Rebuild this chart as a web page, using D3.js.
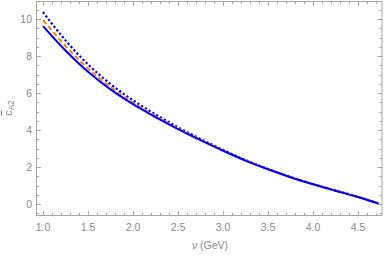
<!DOCTYPE html>
<html>
<head>
<meta charset="utf-8">
<script src="https://cdn.jsdelivr.net/npm/d3@7"></script>
<style>
  body { margin: 0; background: #fff; }
  svg { display: block; font-family: "Liberation Sans", Arial, sans-serif; }
</style>
</head>
<body>
<svg id="chart" width="387" height="257"></svg>
<script>
// energy nu (GeV)
const nu = [1.0, 1.25, 1.5, 1.75, 2.0, 2.25, 2.5, 2.75, 3.0, 3.25, 3.5, 3.75, 4.0, 4.25, 4.5, 4.73];
// three curves
const solidVals  = [9.62, 8.30, 7.15, 6.20, 5.40, 4.70, 4.05, 3.45, 2.88, 2.35, 1.88, 1.45, 1.07, 0.72, 0.38, 0.02];
const dashedVals = [9.95, 8.55, 7.33, 6.33, 5.49, 4.76, 4.09, 3.48, 2.90, 2.36, 1.89, 1.46, 1.08, 0.73, 0.39, 0.03];
const dottedVals = [10.38, 8.85, 7.55, 6.49, 5.61, 4.85, 4.15, 3.52, 2.93, 2.38, 1.90, 1.46, 1.08, 0.73, 0.39, 0.03];
const xTicks = [1.0, 1.5, 2.0, 2.5, 3.0, 3.5, 4.0, 4.5];
const yTicks = [0, 2, 4, 6, 8, 10];

const svg = d3.select('#chart');
const mLeft = 36.5, mRight = 382, mTop = 1.5, mBottom = 215.5;

const x = d3.scaleLinear().domain([0.928, 4.767]).range([mLeft, mRight]);
const y = d3.scaleLinear().domain([-0.62, 10.95]).range([mBottom, mTop]);

const frameCol = '#a6a6a6';
const labelCol = '#8a8a8a';

// frame
svg.append('rect')
  .attr('x', mLeft).attr('y', mTop)
  .attr('width', mRight - mLeft).attr('height', mBottom - mTop)
  .attr('fill', 'none').attr('stroke', frameCol).attr('stroke-width', 1);

// ticks (inward, on all four sides)
const xMinor = d3.range(9, 48).map(d => d / 10).filter(v => v >= x.domain()[0] && v <= x.domain()[1]);
const yMinor = d3.range(-1, 22).map(d => d / 2).filter(v => v >= y.domain()[0] && v <= y.domain()[1]);
const ticks = svg.append('g').attr('stroke', frameCol).attr('stroke-width', 1);
xMinor.forEach(v => {
  const major = xTicks.some(t => Math.abs(t - v) < 1e-6);
  const len = major ? 4.5 : 2.5;
  const px = Math.round(x(v)) + 0.5;
  ticks.append('line').attr('x1', px).attr('x2', px).attr('y1', mBottom).attr('y2', mBottom - len);
  ticks.append('line').attr('x1', px).attr('x2', px).attr('y1', mTop).attr('y2', mTop + len);
});
yMinor.forEach(v => {
  const major = yTicks.some(t => Math.abs(t - v) < 1e-6);
  const len = major ? 4.5 : 2.5;
  const py = Math.round(y(v)) + 0.5;
  ticks.append('line').attr('y1', py).attr('y2', py).attr('x1', mLeft).attr('x2', mLeft + len);
  ticks.append('line').attr('y1', py).attr('y2', py).attr('x1', mRight).attr('x2', mRight - len);
});

// tick labels
svg.append('g').selectAll('text').data(xTicks).join('text')
  .attr('x', d => x(d)).attr('y', 231)
  .attr('text-anchor', 'middle').attr('font-size', 10.5).attr('fill', labelCol)
  .text(d => d.toFixed(1));
svg.append('g').selectAll('text').data(yTicks).join('text')
  .attr('x', 32).attr('y', d => y(d) + 3.5)
  .attr('text-anchor', 'end').attr('font-size', 10.5).attr('fill', labelCol)
  .text(d => d);

// axis labels
const xl = svg.append('text').attr('x', 210).attr('y', 249)
  .attr('text-anchor', 'middle').attr('font-size', 10.5).attr('fill', labelCol);
xl.append('tspan').attr('font-style', 'italic').text('ν');
xl.append('tspan').text(' (GeV)');

const yl = svg.append('text')
  .attr('transform', 'translate(12,108) rotate(-90)')
  .attr('text-anchor', 'middle').attr('font-size', 10.5).attr('fill', labelCol);
yl.append('tspan').attr('text-decoration', 'overline').text('c');
yl.append('tspan').attr('font-size', 8.5).attr('dy', 2).text('A2');

// curves
const line = vals => d3.line()
  .x((d, i) => x(nu[i]))
  .y(d => y(d))
  .curve(d3.curveMonotoneX)(vals);

svg.append('path').attr('d', line(dottedVals))
  .attr('fill', 'none').attr('stroke', '#0000ff').attr('stroke-width', 2.2)
  .attr('stroke-dasharray', '2.2,2.2');
svg.append('path').attr('d', line(dashedVals))
  .attr('fill', 'none').attr('stroke', '#ff8000').attr('stroke-width', 2)
  .attr('stroke-dasharray', '5,3');
svg.append('path').attr('d', line(solidVals))
  .attr('fill', 'none').attr('stroke', '#0000ff').attr('stroke-width', 2);
</script>
</body>
</html>
